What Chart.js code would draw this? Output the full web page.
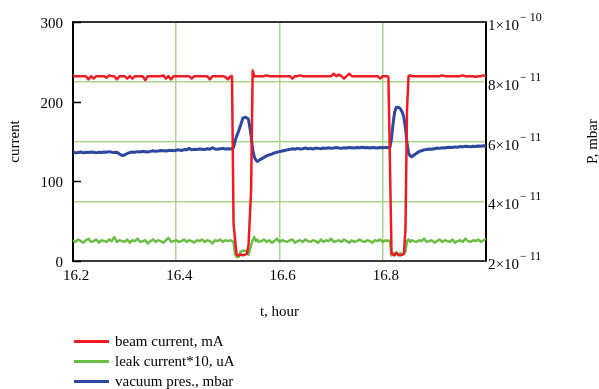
<!DOCTYPE html>
<html>
<head>
<meta charset="utf-8">
<script src="https://cdn.jsdelivr.net/npm/chart.js@4.4.1/dist/chart.umd.min.js"></script>
<style>
  html, body { margin: 0; padding: 0; background: #fff; }
  #wrap { position: relative; width: 599px; height: 389px; }
  #legend { position: absolute; left: 74px; top: 331px; font: 15px 'Liberation Serif', 'Times New Roman', serif; color: #000; }
  #legend .item { display: flex; align-items: center; height: 20px; white-space: nowrap; }
  #legend .swatch { width: 35px; height: 3px; margin-right: 6px; }
</style>
</head>
<body>
<div id="wrap">
  <canvas id="chart" width="599" height="389"></canvas>
  <div id="legend"></div>
</div>
<script>
const FONT = "'Liberation Serif', 'Times New Roman', serif";

// time axis, hours (finer steps around the two beam dumps)
const hours = [
  // 16.2 .. 16.505
  16.200,16.205,16.210,16.215,16.220,16.225,16.230,16.235,16.240,16.245,
  16.250,16.255,16.260,16.265,16.270,16.275,16.280,16.285,16.290,16.295,
  16.300,16.305,16.310,16.315,16.320,16.325,16.330,16.335,16.340,16.345,
  16.350,16.355,16.360,16.365,16.370,16.375,16.380,16.385,16.390,16.395,
  16.400,16.405,16.410,16.415,16.420,16.425,16.430,16.435,16.440,16.445,
  16.450,16.455,16.460,16.465,16.470,16.475,16.480,16.485,16.490,16.495,
  16.500,16.505,
  // first dip
  16.508,16.511,16.514,16.517,16.521,16.525,16.529,16.533,16.537,16.540,
  16.545,16.548,16.551,16.554,16.557,16.560,
  // 16.565 .. 16.805
  16.565,16.570,16.575,16.580,16.585,16.590,16.595,16.600,16.605,16.610,
  16.615,16.620,16.625,16.630,16.635,16.640,16.645,16.650,16.655,16.660,
  16.665,16.670,16.675,16.680,16.685,16.690,16.695,16.700,16.705,16.710,
  16.715,16.720,16.725,16.730,16.735,16.740,16.745,16.750,16.755,16.760,
  16.765,16.770,16.775,16.780,16.785,16.790,16.795,16.800,16.805,
  // second dip
  16.808,16.811,16.814,16.817,16.820,16.823,16.826,16.830,16.834,16.838,
  16.841,16.844,16.847,16.850,16.853,16.856,16.860,
  // 16.865 .. 17.0
  16.865,16.870,16.875,16.880,16.885,16.890,16.895,16.900,16.905,16.910,
  16.915,16.920,16.925,16.930,16.935,16.940,16.945,16.950,16.955,16.960,
  16.965,16.970,16.975,16.980,16.985,16.990,16.995,17.000
];

// beam current, mA
const beamCurrent = [
  232,232,232,232,232,232,228,232,229,232,
  232,232,232,230,233,232,232,228,232,232,
  232,229,232,229,232,232,232,232,227,232,
  232,232,232,232,232,233,229,232,228,232,
  232,232,232,232,232,232,229,232,232,232,
  232,232,232,228,232,232,232,232,232,231,
  228,232,
  232,47,26,8,7,8,7,8,9,20,
  89,239,232,232,232,232,
  232,232,233,232,232,232,232,232,232,232,
  232,232,229,232,232,233,232,232,232,232,
  232,232,232,232,232,232,232,232,235,232,
  234,232,229,232,235,232,232,232,232,232,
  232,232,232,232,232,232,229,232,232,
  232,231,120,9,8,7,10,8,7,8,
  9,40,190,232,233,232,232,
  232,232,232,232,232,232,232,232,232,232,
  233,232,232,232,232,232,232,232,233,232,
  232,232,232,231,232,232,233,232
];

// leak current * 10, uA
const leakCurrent = [
  26,24,27,25,23,26,28,24,25,27,
  23,26,25,24,27,25,30,24,26,25,
  24,27,23,26,25,28,24,25,26,22,
  25,27,24,26,25,23,26,29,24,25,
  26,24,25,27,24,26,25,23,26,25,
  27,24,26,25,22,26,25,27,24,26,
  25,26,
  25,24,8,5,5,12,13,13,12,8,
  20,26,30,25,27,24,
  25,27,24,26,23,25,28,24,26,25,
  24,26,27,23,25,26,24,27,25,24,
  26,25,23,27,24,26,25,28,24,25,
  26,24,27,25,23,26,24,25,27,25,
  24,26,25,23,26,25,27,24,26,
  25,26,24,7,10,8,11,7,10,8,
  9,12,25,27,24,26,25,
  24,26,25,28,24,25,26,23,25,27,
  24,26,25,24,27,23,25,26,24,28,
  25,24,26,25,27,24,26,28
];

// vacuum pressure, in 1e-11 mbar
const vacuumPres = [
  5.64,5.62,5.63,5.65,5.62,5.64,5.63,5.65,5.64,5.62,
  5.64,5.63,5.65,5.64,5.66,5.64,5.63,5.64,5.58,5.53,
  5.55,5.60,5.63,5.65,5.64,5.66,5.65,5.67,5.66,5.65,
  5.67,5.69,5.67,5.68,5.70,5.69,5.68,5.70,5.71,5.69,
  5.71,5.72,5.70,5.73,5.72,5.77,5.72,5.74,5.73,5.75,
  5.74,5.73,5.76,5.74,5.79,5.75,5.74,5.76,5.77,5.75,
  5.76,5.75,
  5.76,5.80,6.02,6.18,6.36,6.56,6.78,6.81,6.79,6.74,
  6.20,5.72,5.50,5.38,5.33,5.37,
  5.42,5.47,5.52,5.55,5.58,5.62,5.64,5.66,5.68,5.70,
  5.72,5.73,5.76,5.74,5.77,5.75,5.76,5.78,5.76,5.77,
  5.75,5.78,5.77,5.76,5.78,5.77,5.79,5.77,5.78,5.80,
  5.78,5.77,5.79,5.78,5.80,5.79,5.78,5.80,5.79,5.81,
  5.79,5.80,5.78,5.80,5.79,5.78,5.80,5.79,5.80,
  5.80,5.79,5.81,6.10,6.60,6.98,7.14,7.15,7.10,6.97,
  6.80,6.45,5.95,5.62,5.52,5.49,5.54,
  5.60,5.66,5.69,5.72,5.73,5.75,5.74,5.76,5.78,5.77,
  5.79,5.78,5.80,5.81,5.80,5.82,5.81,5.83,5.82,5.84,
  5.83,5.82,5.84,5.83,5.85,5.84,5.86,5.84
];
const PRES_UNIT = 1e-11;

// ticks
const timeTicks = [16.2, 16.4, 16.6, 16.8];
const currentTicks = [0, 100, 200, 300];
const pressureTicks = [2e-11, 4e-11, 6e-11, 8e-11, 1e-10];
const pressureMantissa = ['2×10', '4×10', '6×10', '8×10', '1×10'];
const pressureExponent = ['− 11', '− 11', '− 11', '− 11', '− 10'];

const seriesNames = ['beam current, mA', 'leak current*10, uA', 'vacuum pres., mbar'];
const RED = 'rgb(237,28,36)';
const GREEN = 'rgb(106,190,70)';
const BLUE = 'rgb(44,72,160)';
const GRID = 'rgb(168,214,140)';

function points(values, scale) {
  return hours.map((t, i) => ({ x: t, y: values[i] * (scale || 1) }));
}

const decorPlugin = {
  id: 'decor',
  afterDraw(chart) {
    const { ctx, chartArea: a, scales } = chart;
    ctx.save();
    // top frame
    ctx.strokeStyle = '#333';
    ctx.lineWidth = 2;
    ctx.beginPath();
    ctx.moveTo(a.left, a.top);
    ctx.lineTo(a.right + 1, a.top);
    ctx.stroke();
    // inward ticks on current axis
    ctx.strokeStyle = '#000';
    ctx.lineWidth = 1.5;
    currentTicks.forEach(v => {
      const y = Math.round(scales.y.getPixelForValue(v)) + 0.5;
      ctx.beginPath();
      ctx.moveTo(a.left, y);
      ctx.lineTo(a.left + 8, y);
      ctx.stroke();
    });
    // pressure tick labels with exponent
    ctx.fillStyle = '#000';
    ctx.textAlign = 'left';
    ctx.textBaseline = 'alphabetic';
    pressureTicks.forEach((v, i) => {
      const y = scales.y2.getPixelForValue(v);
      ctx.font = '15px ' + FONT;
      ctx.fillText(pressureMantissa[i], a.right + 2, y + 8);
      const w = ctx.measureText(pressureMantissa[i]).width;
      ctx.font = '12px ' + FONT;
      ctx.fillText(pressureExponent[i], a.right + 3 + w, y - 1);
    });
    // axis titles
    ctx.font = '15px ' + FONT;
    ctx.textAlign = 'center';
    ctx.textBaseline = 'middle';
    const midY = (a.top + a.bottom) / 2;
    ctx.save();
    ctx.translate(15, midY);
    ctx.rotate(-Math.PI / 2);
    ctx.fillText('current', 0, 0);
    ctx.restore();
    ctx.save();
    ctx.translate(593, midY);
    ctx.rotate(-Math.PI / 2);
    ctx.fillText('P, mbar', 0, 0);
    ctx.restore();
    ctx.fillText('t, hour', (a.left + a.right) / 2, 312);
    ctx.restore();
  }
};

Chart.defaults.font.family = FONT;
Chart.defaults.font.size = 15;
Chart.defaults.color = '#000';

const chart = new Chart(document.getElementById('chart'), {
  type: 'line',
  data: {
    datasets: [
      { label: seriesNames[0], data: points(beamCurrent), yAxisID: 'y', borderColor: RED, borderWidth: 2.5 },
      { label: seriesNames[1], data: points(leakCurrent), yAxisID: 'y', borderColor: GREEN, borderWidth: 2.5 },
      { label: seriesNames[2], data: points(vacuumPres, PRES_UNIT), yAxisID: 'y2', borderColor: BLUE, borderWidth: 3 }
    ]
  },
  options: {
    responsive: false,
    animation: false,
    devicePixelRatio: 1,
    layout: { padding: { top: 22, left: 0, right: 0, bottom: 0 } },
    elements: {
      point: { radius: 0 },
      line: { tension: 0, borderJoinStyle: 'round' }
    },
    plugins: { legend: { display: false }, tooltip: { enabled: false } },
    scales: {
      x: {
        type: 'linear',
        min: 16.2,
        max: 17.0,
        afterBuildTicks: s => { s.ticks = timeTicks.map(v => ({ value: v })); },
        afterFit: s => { s.height = 128; },
        ticks: { padding: 6, labelOffset: 3, maxRotation: 0, autoSkip: false, callback: v => v.toFixed(1) },
        grid: { color: GRID, lineWidth: 1.5, drawTicks: false },
        border: { color: '#3a3a3a', width: 2 }
      },
      y: {
        position: 'left',
        min: 0,
        max: 300,
        afterBuildTicks: s => { s.ticks = currentTicks.map(v => ({ value: v })); },
        afterFit: s => { s.width = 73; },
        ticks: { padding: 2, labelOffset: 2 },
        grid: { display: false },
        border: { color: '#000', width: 2 }
      },
      y2: {
        position: 'right',
        min: 2e-11,
        max: 1e-10,
        afterBuildTicks: s => { s.ticks = pressureTicks.map(v => ({ value: v })); },
        afterFit: s => { s.width = 113; },
        ticks: { display: false },
        grid: { color: GRID, lineWidth: 1.5, drawTicks: false },
        border: { color: '#000', width: 2 }
      }
    }
  },
  plugins: [decorPlugin]
});

// legend below the chart, one row per series
const legendEl = document.getElementById('legend');
chart.data.datasets.forEach(ds => {
  const row = document.createElement('div');
  row.className = 'item';
  row.innerHTML = `<span class="swatch" style="background:${ds.borderColor}"></span><span>${ds.label}</span>`;
  legendEl.appendChild(row);
});
</script>
</body>
</html>
